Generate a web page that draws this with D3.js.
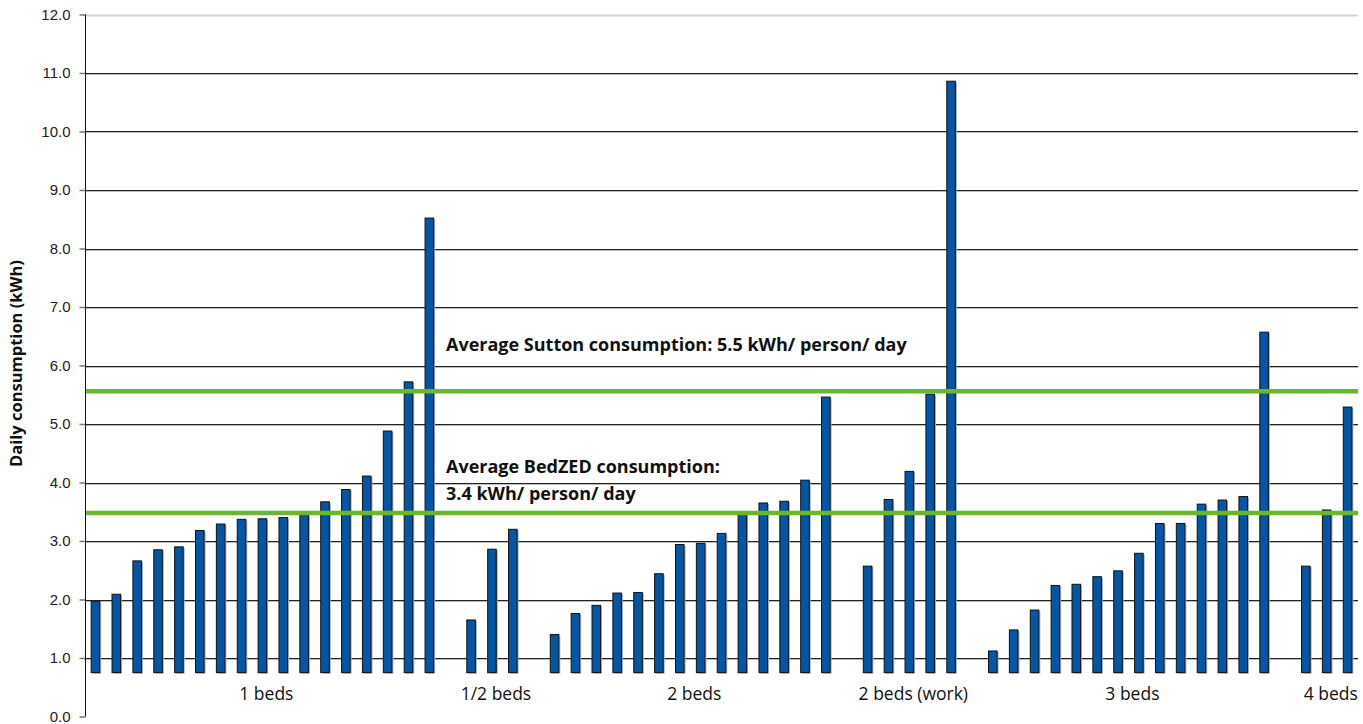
<!DOCTYPE html>
<html>
<head>
<meta charset="utf-8">
<script src="https://cdn.jsdelivr.net/npm/d3@7"></script>
<style>
  html, body { margin: 0; padding: 0; background: #fff; }
  svg { display: block; font-family: "Open Sans", "Lato", sans-serif; }
</style>
</head>
<body>
<svg id="chart" width="1363" height="724"></svg>
<script>
// Daily electricity consumption per home, grouped by home type
const categories = ['1 beds', '1/2 beds', '2 beds', '2 beds (work)', '3 beds', '4 beds'];

const oneBeds = [1.97, 2.09, 2.66, 2.85, 2.90, 3.18, 3.29, 3.37, 3.38, 3.40, 3.45,
  3.67, 3.88, 4.11, 4.88, 5.72, 8.52];
const halfBeds = [1.65, 2.86, 3.20];
const twoBeds = [1.40, 1.76, 1.90, 2.11, 2.12, 2.44, 2.94, 2.96, 3.13, 3.46, 3.65,
  3.68, 4.04, 5.46];
const twoBedsWork = [2.57, 3.71, 4.19, 5.51, 10.86];
const threeBeds = [1.12, 1.48, 1.82, 2.24, 2.26, 2.39, 2.49, 2.79, 3.30, 3.30, 3.63,
  3.70, 3.76, 6.57];
const fourBeds = [2.57, 3.53, 5.29];

const seriesValues = [oneBeds, halfBeds, twoBeds, twoBedsWork, threeBeds, fourBeds];

// reference averages drawn as green lines
const averageValues = [5.56, 3.48];
const averageLabels = [
  ['Average Sutton consumption: 5.5 kWh/ person/ day'],
  ['Average BedZED consumption:', '3.4 kWh/ person/ day'],
];

const yTicks = d3.range(0, 13, 1);
const barBase = 0.75; // bars in the original start a bit above zero

const BAR_FILL = '#0256a6';
const GREEN = '#6ab72d';

const svg = d3.select('#chart');

const margin = { left: 85, right: 5, top: 14.5, bottom: 7.5 };
const width = 1363 - margin.left - margin.right;
const height = 724 - margin.top - margin.bottom;

// one slot per bar, plus one empty slot between groups
const slots = [];
const groupSpans = [];
seriesValues.forEach(function(vals, g) {
  const start = slots.length;
  vals.forEach(function(v) { slots.push({ group: g, value: v }); });
  groupSpans.push({ name: categories[g], start: start, end: slots.length - 1 });
  if (g < seriesValues.length - 1) slots.push(null);
});

const x = d3.scaleBand()
  .domain(d3.range(slots.length))
  .range([margin.left, margin.left + width])
  .paddingInner(0.59)
  .paddingOuter(0.295);

const y = d3.scaleLinear()
  .domain([0, 12])
  .range([margin.top + height, margin.top]);

// gridlines
const grid = svg.append('g').attr('class', 'grid');
grid.selectAll('.shadow')
  .data(yTicks.filter(function(t) { return t > 0 && t < 12; }))
  .enter().append('line')
  .attr('x1', margin.left).attr('x2', margin.left + width)
  .attr('y1', function(d) { return Math.round(y(d)) + 1.5; })
  .attr('y2', function(d) { return Math.round(y(d)) + 1.5; })
  .attr('stroke', '#bbb')
  .attr('stroke-width', 1);
grid.selectAll('.main')
  .data(yTicks.filter(function(t) { return t > 0; }))
  .enter().append('line')
  .attr('x1', margin.left).attr('x2', margin.left + width)
  .attr('y1', function(d) { return Math.round(y(d)) + 0.5; })
  .attr('y2', function(d) { return Math.round(y(d)) + 0.5; })
  .attr('stroke', function(d) { return d === 12 ? '#d2d2d2' : '#222'; })
  .attr('stroke-width', function(d) { return d === 12 ? 2 : 1; });

// y axis
const yAxis = d3.axisLeft(y)
  .tickValues(yTicks)
  .tickFormat(d3.format('.1f'))
  .tickSize(6)
  .tickPadding(9);
const yAxisG = svg.append('g')
  .attr('transform', 'translate(' + (margin.left + 0.5) + ',0)')
  .call(yAxis);
yAxisG.select('.domain').remove();
yAxisG.selectAll('.tick line').attr('stroke', '#777').attr('stroke-width', 1.5);
yAxisG.selectAll('.tick text')
  .attr('fill', '#222')
  .style('font-size', '15px');
svg.append('line')
  .attr('x1', margin.left + 0.5).attr('x2', margin.left + 0.5)
  .attr('y1', y(12)).attr('y2', y(0))
  .attr('stroke', '#111').attr('stroke-width', 1);

svg.append('text')
  .attr('transform', 'translate(22,' + (y(6) - 2) + ') rotate(-90)')
  .attr('text-anchor', 'middle')
  .style('font-size', '16.5px')
  .style('font-weight', 'bold')
  .attr('fill', '#111')
  .text('Daily consumption (kWh)');

// bars
const bars = svg.append('g').attr('class', 'bars');
const barData = slots.map(function(d, i) { return d ? { i: i, value: d.value } : null; })
  .filter(function(d) { return d; });

bars.selectAll('.bar-shadow')
  .data(barData)
  .enter().append('rect')
  .attr('x', function(d) { return x(d.i) + 1.5; })
  .attr('y', function(d) { return y(d.value) + 1; })
  .attr('width', x.bandwidth())
  .attr('height', function(d) { return y(barBase) - y(d.value); })
  .attr('fill', '#aaa');

bars.selectAll('.bar')
  .data(barData)
  .enter().append('rect')
  .attr('class', 'bar')
  .attr('x', function(d) { return x(d.i); })
  .attr('y', function(d) { return y(d.value); })
  .attr('width', x.bandwidth())
  .attr('height', function(d) { return y(barBase) - y(d.value); })
  .attr('fill', BAR_FILL)
  .attr('stroke', '#111')
  .attr('stroke-width', 1);

// average lines
svg.selectAll('.avg')
  .data(averageValues)
  .enter().append('line')
  .attr('x1', margin.left + 1).attr('x2', margin.left + width)
  .attr('y1', function(d) { return y(d); })
  .attr('y2', function(d) { return y(d); })
  .attr('stroke', GREEN)
  .attr('stroke-width', 4.5);

// annotation labels sit above each line
averageLabels.forEach(function(lines, k) {
  const t = svg.append('text')
    .attr('x', 446)
    .attr('y', y(averageValues[k]) - 40)
    .style('font-size', '18px')
    .style('font-weight', 'bold')
    .attr('fill', '#111');
  lines.forEach(function(line, j) {
    t.append('tspan')
      .attr('x', 446)
      .attr('dy', j === 0 ? 0 : 27)
      .text(line);
  });
});

// category labels centred under each group
svg.selectAll('.cat')
  .data(groupSpans)
  .enter().append('text')
  .attr('x', function(d) { return (x(d.start) + x(d.end) + x.bandwidth()) / 2 + 4; })
  .attr('y', 700)
  .attr('text-anchor', 'middle')
  .style('font-size', '17.5px')
  .attr('fill', '#111')
  .text(function(d) { return d.name; });
</script>
</body>
</html>
